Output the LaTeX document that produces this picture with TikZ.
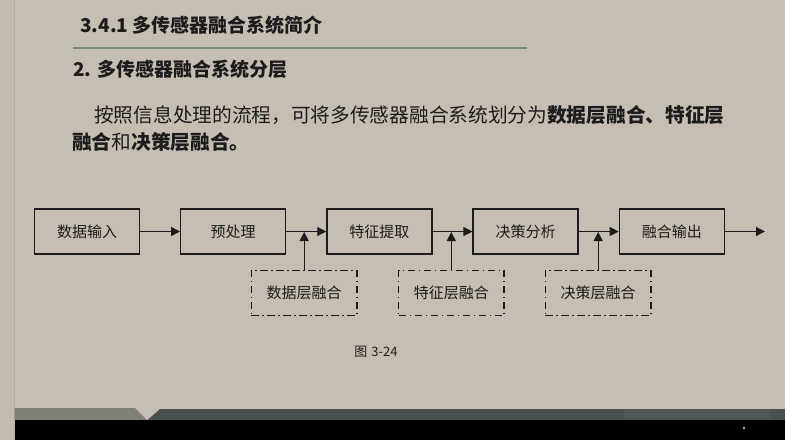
\documentclass[tikz,border=0pt]{standalone}
\usepackage{fontspec}
\setmainfont{Noto Sans CJK SC}
\usetikzlibrary{arrows.meta,positioning}
\definecolor{bgc}{HTML}{C6BEB2}
\definecolor{stripc}{HTML}{C2BBB0}
\definecolor{stripl}{HTML}{B5AEA3}
\definecolor{greenl}{HTML}{6E8C78}
\definecolor{inkc}{HTML}{1C1C1C}
\definecolor{bandg}{HTML}{807F78}
\definecolor{bandd}{HTML}{4A4F50}
\definecolor{bandl}{HTML}{515657}
\tikzset{
  mainbox/.style={draw=inkc, line width=1.3pt, minimum width=105pt, minimum height=45pt, inner sep=0pt, text=inkc, font=\fontsize{15}{15}\selectfont},
  fusebox/.style={draw=inkc, line width=1.3pt, minimum width=105.5pt, minimum height=45.5pt, inner sep=0pt, text=inkc, font=\fontsize{15}{15}\selectfont, dash pattern=on 7.5pt off 3.5pt on 1.5pt off 3.5pt},
  flow/.style={draw=inkc, line width=1.3pt, -{Triangle[length=9pt,width=9pt]}},
  txt/.style={inner sep=0pt, anchor=west, text=inkc}
}
\begin{document}
\begin{tikzpicture}[x=1pt,y=-1pt]
\useasboundingbox (0,0) rectangle (785,440);
% background
\fill[bgc] (0,0) rectangle (785,440);
\fill[stripc] (0,0) rectangle (14.5,440);
\draw[stripl, line width=0.8pt] (14.5,0) -- (14.5,440);
% headings
\node[txt, font=\fontsize{19}{19}\selectfont\bfseries] (title) at (80,25) {3.4.1 多传感器融合系统简介};
\draw[greenl, line width=2pt] (73,48) -- (527,48);
\node[txt, font=\fontsize{19}{19}\selectfont\bfseries] (sub) at (73,69) {2. 多传感器融合系统分层};
\node[txt, font=\fontsize{19.7}{19.7}\selectfont] (para1) at (94,115) {按照信息处理的流程，可将多传感器融合系统划分为\textbf{数据层融合、特征层}};
\node[txt, font=\fontsize{19.7}{19.7}\selectfont] (para2) at (72,142) {\textbf{融合}和\textbf{决策层融合。}};
% main flow
\node[mainbox] (b1) at (87,231.5) {数据输入};
\node[mainbox] (b2) at (233.2,231.5) {预处理};
\node[mainbox] (b3) at (379.4,231.5) {特征提取};
\node[mainbox] (b4) at (525.6,231.5) {决策分析};
\node[mainbox] (b5) at (671.8,231.5) {融合输出};
\coordinate (out) at (765,231.5);
\draw[flow] (b1) -- (b2);
\draw[flow] (b2) -- (b3);
\draw[flow] (b3) -- (b4);
\draw[flow] (b4) -- (b5);
\draw[flow] (b5) -- (out);
% fusion boxes
\node[fusebox] (f1) at (304.2,293) {数据层融合};
\node[fusebox] (f2) at (451.3,293) {特征层融合};
\node[fusebox] (f3) at (598.2,293) {决策层融合};
\coordinate (j1) at (304.2,232);
\coordinate (j2) at (451.3,232);
\coordinate (j3) at (598.2,232);
\draw[flow] (f1.north) -- (j1);
\draw[flow] (f2.north) -- (j2);
\draw[flow] (f3.north) -- (j3);
% caption
\node[inner sep=0pt, text=inkc, font=\fontsize{13}{13}\selectfont] (cap) at (376,352) {图\hspace{4pt}3-24};
% bottom band
\fill[bandg] (14.5,408) -- (135,408) -- (147,420) -- (14.5,420) -- cycle;
\fill[bandd] (160,409) -- (785,409) -- (785,420) -- (147.5,420) -- cycle;
\fill[bandl] (624,410) rectangle (770,419);
\fill[black] (14.5,420) rectangle (785,440);
\fill[gray!60] (744,428) circle (1.3);
\end{tikzpicture}
\end{document}
